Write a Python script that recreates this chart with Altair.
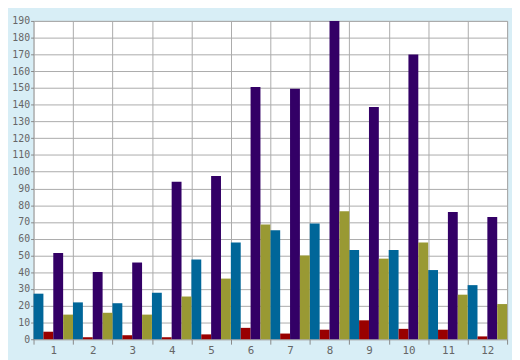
import altair as alt
import pandas as pd

categories = [str(i) for i in range(1, 13)]
series_order = ["S1", "S2", "S3", "S4"]
series_colors = ["#006699", "#990000", "#330066", "#999933"]

blue = [27.2, 22.0, 21.5, 27.7, 47.6, 57.8, 65.1, 69.1, 53.2, 53.2, 41.3, 32.3]
red = [4.5, 1.2, 2.4, 1.2, 2.9, 6.8, 3.4, 5.7, 11.3, 6.2, 5.7, 1.7]
purple = [51.5, 40.2, 45.8, 94.0, 97.4, 150.6, 149.5, 190.0, 138.7, 170.0, 75.9, 73.0]
olive = [14.7, 15.8, 14.7, 25.5, 36.2, 68.5, 50.0, 76.4, 48.1, 57.8, 26.6, 21.0]

rows = []
for name, vals in zip(series_order, [blue, red, purple, olive]):
    for c, v in zip(categories, vals):
        rows.append({"cat": c, "series": name, "value": v})
df = pd.DataFrame(rows)

font = "DejaVu Sans Mono"

chart = alt.Chart(df).mark_bar().encode(
    x=alt.X(
        "cat:N",
        sort=categories,
        scale=alt.Scale(paddingInner=0, paddingOuter=0),
        axis=alt.Axis(
            title=None, labelAngle=0, tickBand="extent", grid=True,
            gridColor="#aaaaaa", tickColor="#888888", tickSize=5,
            labelPadding=1, minExtent=18, maxExtent=18, domain=False,
            labelFont=font, labelFontSize=11, labelColor="#666666",
        ),
    ),
    xOffset=alt.XOffset(
        "series:N", sort=series_order,
        scale=alt.Scale(paddingInner=0, paddingOuter=0),
    ),
    y=alt.Y(
        "value:Q",
        scale=alt.Scale(domain=[0, 190], nice=False),
        axis=alt.Axis(
            title=None, values=list(range(0, 200, 10)), grid=True,
            gridColor="#aaaaaa", tickColor="#888888", tickSize=3,
            labelPadding=1, minExtent=26, maxExtent=26, domain=False,
            labelFont=font, labelFontSize=10, labelColor="#666666",
        ),
    ),
    color=alt.Color(
        "series:N",
        scale=alt.Scale(domain=series_order, range=series_colors),
        legend=None,
    ),
).properties(
    width=482,
    height=324,
    background="#d8eef6",
    padding={"left": 0, "top": 5, "right": 4, "bottom": 2},
).configure_view(fill="white", stroke="#aaaaaa", strokeWidth=1)

chart.save("out.html", embed_options={"renderer": "svg", "actions": False})
